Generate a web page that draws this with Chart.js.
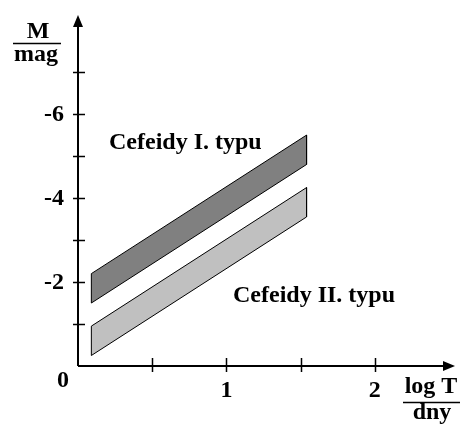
<!DOCTYPE html>
<html>
<head>
<meta charset="utf-8">
<script src="https://cdn.jsdelivr.net/npm/chart.js@4"></script>
<style>
  html, body { margin: 0; padding: 0; background: #fff; }
  #wrap { width: 461px; height: 425px; }
</style>
</head>
<body>
<div id="wrap"><canvas id="myChart" width="461" height="425"></canvas></div>
<script>
// data
var logT = [0.09, 1.54];
var typ1Top = [-2.2, -5.5];
var typ1Bottom = [-1.5, -4.8];
var typ2Top = [-0.95, -4.25];
var typ2Bottom = [-0.25, -3.55];

var xTicks = [0, 0.5, 1, 1.5, 2];
var xLabels = ['', '', '1', '', '2'];
var yTicks = [-1, -2, -3, -4, -5, -6, -7];
var yLabels = ['', '-2', '', '-4', '', '-6', ''];

var FONT = 'bold 24px "Liberation Serif", "DejaVu Serif", serif';

// closed polygon for a band
function band(top, bottom) {
  return [
    { x: logT[0], y: top[0] },
    { x: logT[1], y: top[1] },
    { x: logT[1], y: bottom[1] },
    { x: logT[0], y: bottom[0] },
    { x: logT[0], y: top[0] }
  ];
}

// axes, ticks, arrows and texts
var axesPlugin = {
  id: 'axesPlugin',
  afterDatasetsDraw: function (chart) {
    var ctx = chart.ctx;
    var xs = chart.scales.x;
    var ys = chart.scales.y;
    var x0 = xs.getPixelForValue(0);
    var y0 = ys.getPixelForValue(0);
    var top = chart.chartArea.top;
    var right = chart.chartArea.right;

    ctx.save();
    ctx.strokeStyle = '#000';
    ctx.fillStyle = '#000';
    ctx.lineWidth = 2;

    // axis lines
    ctx.beginPath();
    ctx.moveTo(x0, y0);
    ctx.lineTo(x0, top + 6);
    ctx.moveTo(x0, y0);
    ctx.lineTo(right - 6, y0);
    ctx.stroke();

    // arrows
    ctx.beginPath();
    ctx.moveTo(x0, top);
    ctx.lineTo(x0 - 5, top + 12);
    ctx.lineTo(x0 + 5, top + 12);
    ctx.closePath();
    ctx.fill();
    ctx.beginPath();
    ctx.moveTo(right, y0);
    ctx.lineTo(right - 12, y0 - 5);
    ctx.lineTo(right - 12, y0 + 5);
    ctx.closePath();
    ctx.fill();

    // ticks
    ctx.lineWidth = 1.5;
    ctx.beginPath();
    yTicks.forEach(function (v) {
      var py = Math.round(ys.getPixelForValue(v)) + 0.5;
      ctx.moveTo(x0 - 5, py);
      ctx.lineTo(x0 + 7, py);
    });
    xTicks.forEach(function (v) {
      if (v === 0) return;
      var px = Math.round(xs.getPixelForValue(v)) + 0.5;
      ctx.moveTo(px, y0 - 8);
      ctx.lineTo(px, y0 + 6);
    });
    ctx.stroke();

    // tick labels
    ctx.font = FONT;
    ctx.textBaseline = 'middle';
    ctx.textAlign = 'right';
    yTicks.forEach(function (v, i) {
      if (yLabels[i]) ctx.fillText(yLabels[i], x0 - 14, ys.getPixelForValue(v) + 1);
    });
    ctx.textAlign = 'center';
    xTicks.forEach(function (v, i) {
      if (xLabels[i]) ctx.fillText(xLabels[i], xs.getPixelForValue(v), y0 + 25);
    });
    ctx.fillText('0', x0 - 15, y0 + 15);

    // axis titles as fractions
    ctx.fillText('M', 38, 32);
    ctx.fillText('mag', 36, 55);
    ctx.fillText('log T', 431, 387);
    ctx.fillText('dny', 432, 413);
    ctx.lineWidth = 1.5;
    ctx.beginPath();
    ctx.moveTo(13, 43.5);
    ctx.lineTo(61, 43.5);
    ctx.moveTo(403, 402.5);
    ctx.lineTo(460, 402.5);
    ctx.stroke();

    // band labels
    ctx.textAlign = 'left';
    ctx.fillText('Cefeidy I. typu', 109, 143);
    ctx.fillText('Cefeidy II. typu', 233, 296);
    ctx.restore();
  }
};

var config = {
  type: 'scatter',
  data: {
    datasets: [{
      label: 'Cefeidy I. typu',
      data: band(typ1Top, typ1Bottom),
      showLine: true,
      fill: 'shape',
      borderColor: '#000',
      borderWidth: 1,
      backgroundColor: '#808080',
      pointRadius: 0,
      tension: 0
    }, {
      label: 'Cefeidy II. typu',
      data: band(typ2Top, typ2Bottom),
      showLine: true,
      fill: 'shape',
      borderColor: '#000',
      borderWidth: 1,
      backgroundColor: '#c0c0c0',
      pointRadius: 0,
      tension: 0
    }]
  },
  options: {
    responsive: false,
    animation: false,
    events: [],
    layout: {
      padding: { left: 78, right: 6, top: 15, bottom: 59 }
    },
    scales: {
      x: { type: 'linear', display: false, min: 0, max: 2.54 },
      y: { type: 'linear', display: false, min: -8.36, max: 0, reverse: true }
    },
    plugins: {
      legend: { display: false },
      tooltip: { enabled: false }
    }
  },
  plugins: [axesPlugin]
};

// Create the chart
var myChart = new Chart(document.getElementById('myChart'), config);
</script>
</body>
</html>
